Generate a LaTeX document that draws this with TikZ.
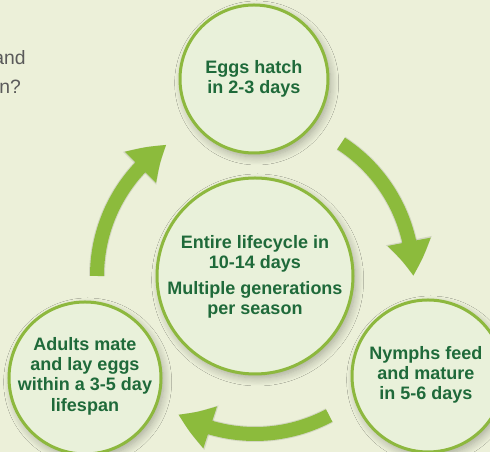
\documentclass[tikz,border=0pt]{standalone}
\usepackage{fontspec}
\setmainfont{Liberation Sans}
\usetikzlibrary{arrows.meta,bending,shadows.blur}

\definecolor{bgcream}{HTML}{ECF0D9}
\definecolor{stagefill}{HTML}{E9F1DA}
\definecolor{ringgreen}{HTML}{8DB83E}
\definecolor{arrowgreen}{HTML}{8CBB3C}
\definecolor{leafdark}{HTML}{1F6A3A}
\definecolor{introgray}{HTML}{5A5A5A}

\tikzset{
  stage/.style={circle, draw=ringgreen, line width=2.25pt, fill=stagefill,
    minimum size=#1, inner sep=0pt,
    blur shadow={shadow blur steps=8, shadow blur radius=6pt,
      shadow xshift=2pt, shadow yshift=-3pt, shadow opacity=30}},
  stagetext/.style={text=leafdark, align=center,
    font=\fontsize{13.5}{15.2}\selectfont\bfseries},
  cyclearrow/.style={draw=arrowgreen, line width=10.5pt,
    -{Triangle[length=26pt,width=31pt,bend]}},
  arrowshade/.style={draw=black, draw opacity=0.10, line width=12pt,
    -{Triangle[length=27pt,width=33pt,bend]}, shift={(2pt,-3pt)}},
}

\begin{document}
\begin{tikzpicture}[x=0.75pt, y=0.75pt]
    \useasboundingbox (0,0) rectangle (490,452);
    \fill[bgcream] (0,0) rectangle (490,452);

    % cut-off intro text on the left
    \node[anchor=base east, inner sep=0pt, text=introgray,
          font=\fontsize{14.5}{16}\selectfont] (introA) at (26,387) {and};
    \node[anchor=base west, inner sep=0pt, text=introgray,
          font=\fontsize{14.5}{16}\selectfont] (introB) at (-1,358) {n?};

    \coordinate (hub) at (255,176);

    % shadows of the arrows
    \draw[arrowshade] ([shift={(57:118.5pt)}]hub)  arc[start angle=57,  end angle=0,    radius=118.5pt];
    \draw[arrowshade] ([shift={(-62:118.5pt)}]hub) arc[start angle=-62, end angle=-119, radius=118.5pt];
    \draw[arrowshade] ([shift={(180:118.5pt)}]hub) arc[start angle=180, end angle=124,  radius=118.5pt];

    % cycle arrows
    \draw[cyclearrow] ([shift={(57:118.5pt)}]hub)  arc[start angle=57,  end angle=0,    radius=118.5pt];
    \draw[cyclearrow] ([shift={(-62:118.5pt)}]hub) arc[start angle=-62, end angle=-119, radius=118.5pt];
    \draw[cyclearrow] ([shift={(180:118.5pt)}]hub) arc[start angle=180, end angle=124,  radius=118.5pt];

    % stages
    \node[stage=111pt] (eggs)   at (254,373) {};
    \node[stage=147pt] (whole)  at (hub) {};
    \node[stage=114pt] (adults) at (85,74) {};
    \node[stage=114pt] (nymphs) at (428,76) {};

    \node[stagetext] (eggsT)   at (eggs)        {Eggs hatch\\in 2-3 days};
    \node[stagetext] (wholeT)  at (255,175)     {Entire lifecycle in\\10-14 days\\[4pt]Multiple generations\\per season};
    \node[stagetext] (adultsT) at (85,76)       {Adults mate\\and lay eggs\\within a 3-5 day\\lifespan};
    \node[stagetext] (nymphsT) at (426,77)      {Nymphs feed\\and mature\\in 5-6 days};
\end{tikzpicture}
\end{document}
